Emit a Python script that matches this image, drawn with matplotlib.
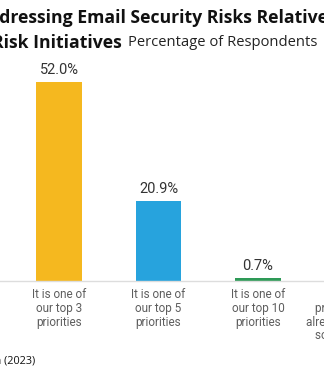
import matplotlib
matplotlib.use("Agg")
import matplotlib.pyplot as plt
import matplotlib.transforms as mtrans

categories = [
    "It is one of\nour top 3\npriorities",
    "It is one of\nour top 5\npriorities",
    "It is one of\nour top 10\npriorities",
    "It is not a\npriority since we\nalready have a good\nsolution in place",
]
values = [52.0, 20.9, 0.7, 0.0]
value_labels = ["52.0%", "20.9%", "0.7%", ""]

title_line1 = "Addressing Email Security Risks Relative to Other"
title_line2 = "Risk Initiatives"
subtitle = "Percentage of Respondents"
source = "Source: Osterman Research (2023)"

bar_colors = ["#F5B81F", "#27A3DD", "#2E9A57", "#888888"]

W, H = 324, 375
fig = plt.figure(figsize=(W / 100, H / 100), dpi=100)
fig.patch.set_facecolor("white")


def fx(x):
    return x / W


def fy(y):
    return 1 - y / H


# axes placed in pixel terms: baseline at y=281, category spacing ~99.5 px
base_y, top_y = 281, 70
ax = fig.add_axes([0, fy(base_y), 1, (base_y - top_y) / H])
ymax = 52.0 * (base_y - top_y) / (base_y - 82)
ax.set_ylim(0, ymax)
ax.set_xlim((0 - 59) / 99.5, (W - 59) / 99.5)

xs = list(range(len(categories)))
bars = ax.bar(xs, values, width=0.46, color=bar_colors)
for b, lab in zip(bars, value_labels):
    if lab:
        ax.annotate(lab, (b.get_x() + b.get_width() / 2, b.get_height()),
                    xytext=(0, 3.5), textcoords="offset points",
                    ha="center", va="bottom", fontsize=10.5,
                    color="#333333", family="Roboto")

for s in ["top", "right", "left"]:
    ax.spines[s].set_visible(False)
ax.spines["bottom"].set_color("#dddddd")
ax.spines["bottom"].set_linewidth(1.0)
ax.set_yticks([])
ax.set_xticks([])

trans = mtrans.blended_transform_factory(ax.transData, fig.transFigure)
for x, c in zip(xs, categories):
    ax.text(x, fy(288), c, transform=trans, ha="center", va="top",
            fontsize=8.5, color="#5e5e5e", family="Roboto",
            linespacing=1.08, clip_on=False)

fig.text(fx(-24), fy(18), title_line1, ha="left", va="center",
         fontsize=12.7, fontweight="bold", family="Open Sans", color="#111111")
fig.text(fx(122), fy(43), title_line2, ha="right", va="center",
         fontsize=12.7, fontweight="bold", family="Open Sans", color="#111111")
fig.text(fx(128), fy(43), subtitle, ha="left", va="center",
         fontsize=10.6, family="Open Sans", color="#222222")
fig.text(fx(35), fy(361), source, ha="right", va="center",
         fontsize=7.8, family="Open Sans", color="#111111")

fig.savefig("out.png", dpi=100)
